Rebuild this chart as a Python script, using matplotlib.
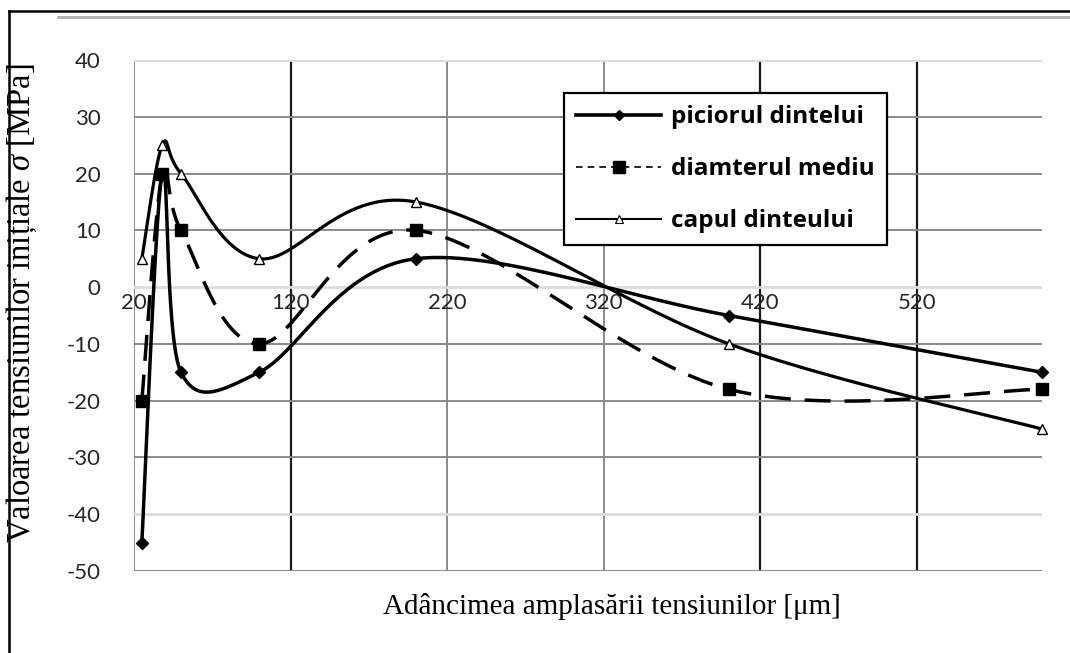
import numpy as np
import matplotlib
matplotlib.use("Agg")
import matplotlib.pyplot as plt
from matplotlib.lines import Line2D

plt.rcParams['axes.unicode_minus'] = False
plt.rcParams['mathtext.fontset'] = 'custom'
plt.rcParams['mathtext.rm'] = 'Liberation Serif'
plt.rcParams['mathtext.it'] = 'Liberation Serif:italic'

# ---- data ----
x_picior = [25, 38, 50, 100, 200, 400, 600]
y_picior = [-45, 20, -15, -15, 5, -5, -15]

x_diam = [25, 38, 50, 100, 200, 400, 600]
y_diam = [-20, 20, 10, -10, 10, -18, -18]

x_cap = [25, 38, 50, 100, 200, 400, 600]
y_cap = [5, 25, 20, 5, 15, -10, -25]

labels = ["piciorul dintelui", "diamterul mediu", "capul dinteului"]
x_ticks = [20, 120, 220, 320, 420, 520]
y_ticks = [-50, -40, -30, -20, -10, 0, 10, 20, 30, 40]
x_title = "Adâncimea amplasării tensiunilor [μm]"
y_title = "Valoarea tensiunilor inițiale $\\mathit{\\sigma}$ [MPa]"


def excel_smooth(xs, ys, n=60):
    """Catmull-Rom style Bezier smoothing like Excel's smoothed line."""
    p = np.column_stack([xs, ys]).astype(float)
    out = []
    m = len(p)
    t = np.linspace(0, 1, n)[:, None]
    for i in range(m - 1):
        p0 = p[i - 1] if i > 0 else p[i]
        p1 = p[i]
        p2 = p[i + 1]
        p3 = p[i + 2] if i + 2 < m else p[i + 1]
        c1 = p1 + (p2 - p0) / 6.0
        c2 = p2 - (p3 - p1) / 6.0
        seg = ((1 - t) ** 3) * p1 + 3 * ((1 - t) ** 2) * t * c1 + 3 * (1 - t) * t ** 2 * c2 + t ** 3 * p2
        out.append(seg if i == 0 else seg[1:])
    s = np.vstack(out)
    return s[:, 0], s[:, 1]


fig = plt.figure(figsize=(10.70, 6.53), dpi=100)
ax = fig.add_axes([134 / 1070, 1 - 571 / 653, (1042 - 134) / 1070, (571 - 60) / 653])

ax.set_xlim(20, 600)
ax.set_ylim(-50, 40)
ax.set_xticks(x_ticks)
ax.set_yticks(y_ticks)
ax.set_xticklabels([str(v) for v in x_ticks])
ax.set_yticklabels([str(v) for v in y_ticks])

for s in ax.spines.values():
    s.set_visible(False)
ax.spines['bottom'].set_position(('data', 0))

for lab in ax.get_xticklabels() + ax.get_yticklabels():
    lab.set_fontfamily('Lato')
    lab.set_fontsize(16)
    lab.set_color('#262626')
ax.tick_params(axis='x', length=0, pad=4)
ax.tick_params(axis='y', length=0, pad=24)

ax.grid(True, zorder=0)
for v, gl in zip(x_ticks, ax.xaxis.get_gridlines()):
    if v in (120, 420, 520):
        gl.set_color('#1a1a1a')
        gl.set_linewidth(1.6)
    else:
        gl.set_color('#8a8a8a')
        gl.set_linewidth(1.4)
for v, gl in zip(y_ticks, ax.yaxis.get_gridlines()):
    if v in (40, 0, -40):
        gl.set_color('#dcdcdc')
        gl.set_linewidth(2.0)
    else:
        gl.set_color('#8a8a8a')
        gl.set_linewidth(1.4)
ax.set_axisbelow(True)

# curves
sx, sy = excel_smooth(x_picior, y_picior)
ax.plot(sx, sy, color='black', lw=2.5, zorder=3)
ax.plot(x_picior, y_picior, linestyle='none', marker='D', ms=6, color='black', zorder=4, clip_on=False)

sx, sy = excel_smooth(x_diam, y_diam)
ax.plot(sx, sy, color='black', lw=2.5, dashes=(7.5, 4), zorder=3)
ax.plot(x_diam, y_diam, linestyle='none', marker='s', ms=9, color='black', zorder=4, clip_on=False)

sx, sy = excel_smooth(x_cap, y_cap)
ax.plot(sx, sy, color='black', lw=2.3, zorder=3)
ax.plot(x_cap, y_cap, linestyle='none', marker='^', ms=7, mfc='white', mec='black', mew=1.0, zorder=4, clip_on=False)

handles = [
    Line2D([], [], color='black', lw=2.6, marker='D', ms=5),
    Line2D([], [], color='black', lw=1.2, dashes=(4, 3), marker='s', ms=9),
    Line2D([], [], color='black', lw=1.5, marker='^', ms=6, mfc='white', mec='black', mew=0.8),
]
leg = ax.legend(handles, labels, loc='upper left', bbox_to_anchor=((564 - 134) / 908, 1 - (93 - 60) / 511),
                prop=dict(family='Open Sans', weight='bold', size=17.5), frameon=True, fancybox=False,
                edgecolor='black', framealpha=1, handlelength=3.5, handletextpad=0.4,
                labelspacing=1.15, borderpad=0.5, borderaxespad=0)
leg.get_frame().set_linewidth(1.6)
leg.set_zorder(6)

fig.text(612 / 1070, 1 - 606 / 653, x_title, family='Liberation Serif', size=21, ha='center', va='center')
fig.text(22 / 1070, 1 - 303 / 653, y_title, family='Liberation Serif', size=23.5, ha='center', va='center',
         rotation=90)

# outer frame lines
fig.add_artist(Line2D([9 / 1070, 9 / 1070], [0, 1 - 11 / 653], color='black', lw=1.8, transform=fig.transFigure))
fig.add_artist(Line2D([9 / 1070, 1], [1 - 11 / 653, 1 - 11 / 653], color='black', lw=1.8, transform=fig.transFigure))
fig.add_artist(Line2D([58 / 1070, 1], [1 - 17 / 653, 1 - 17 / 653], color='#b0b0b0', lw=2.0, transform=fig.transFigure))

fig.savefig('out.png', dpi=100)
